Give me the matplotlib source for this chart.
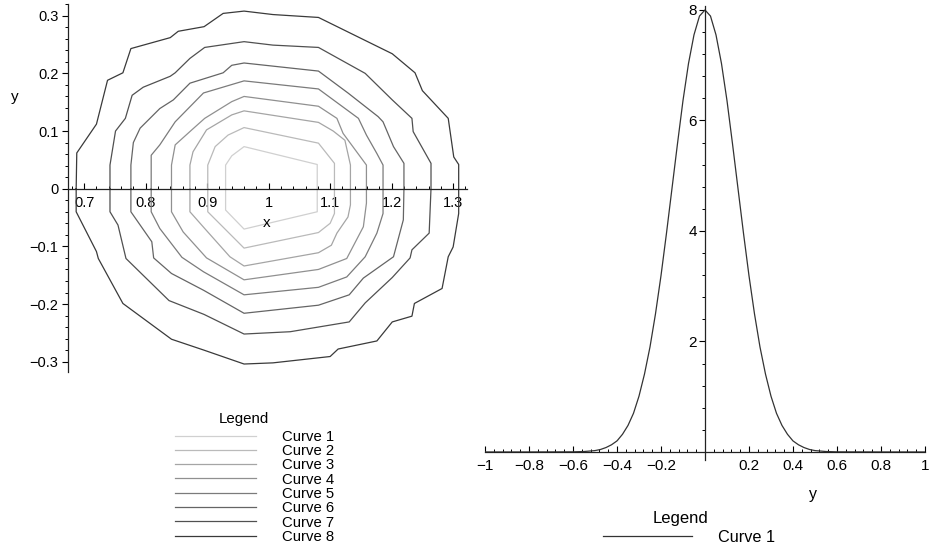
import matplotlib
matplotlib.use('Agg')
import matplotlib.pyplot as plt
from matplotlib.ticker import MultipleLocator, FixedLocator, FixedFormatter

plt.rcParams['font.family'] = ['Liberation Sans', 'DejaVu Sans']

# contour curves of the joint density (x, y)
c1_x = [0.930, 0.930, 0.940, 0.960, 1.079, 1.079, 0.960, 0.930, 0.930]
c1_y = [0, 0.041, 0.057, 0.073, 0.042, -0.040, -0.070, -0.037, 0]

c2_x = [0.901, 0.901, 0.913, 0.934, 0.960, 1.081, 1.107, 1.107, 1.100, 1.081,
        0.960, 0.901, 0.901]
c2_y = [0, 0.041, 0.073, 0.093, 0.106, 0.079, 0.044, -0.043, -0.060, -0.076,
        -0.103, -0.040, 0]

c3_x = [0.872, 0.872, 0.877, 0.899, 0.940, 0.960, 1.081, 1.105, 1.124, 1.133,
        1.133, 1.129, 1.111, 1.102, 1.081, 0.960, 0.937, 0.896, 0.872, 0.872]
c3_y = [0, 0.041, 0.064, 0.102, 0.128, 0.135, 0.115, 0.100, 0.084, 0.041,
        -0.028, -0.049, -0.077, -0.098, -0.111, -0.134, -0.118, -0.069, -0.040, 0]

c4_x = [0.842, 0.842, 0.848, 0.875, 0.896, 0.940, 0.960, 1.081, 1.111, 1.121,
        1.159, 1.159, 1.154, 1.127, 1.081, 0.960, 0.899, 0.861, 0.842, 0.842]
c4_y = [0, 0.041, 0.076, 0.102, 0.122, 0.151, 0.160, 0.143, 0.122, 0.096,
        0.041, -0.025, -0.066, -0.121, -0.140, -0.158, -0.120, -0.075, -0.040, 0]

c5_x = [0.809, 0.809, 0.823, 0.848, 0.894, 0.960, 1.081, 1.146, 1.159, 1.176,
        1.186, 1.186, 1.176, 1.157, 1.127, 1.081, 0.960, 0.894, 0.859, 0.823,
        0.809, 0.809]
c5_y = [0, 0.058, 0.076, 0.116, 0.166, 0.187, 0.173, 0.122, 0.093, 0.061,
        0.041, -0.043, -0.077, -0.118, -0.153, -0.171, -0.184, -0.144, -0.119,
        -0.069, -0.040, 0]

c6_x = [0.776, 0.776, 0.780, 0.791, 0.823, 0.845, 0.872, 0.926, 0.940, 0.960,
        1.081, 1.129, 1.178, 1.186, 1.203, 1.220, 1.220, 1.219, 1.203, 1.154,
        1.131, 1.081, 0.960, 0.894, 0.842, 0.813, 0.810, 0.776, 0.776]
c6_y = [0, 0.041, 0.080, 0.105, 0.139, 0.154, 0.183, 0.201, 0.214, 0.218,
        0.204, 0.166, 0.125, 0.116, 0.073, 0.044, 0, -0.054, -0.118, -0.155,
        -0.184, -0.202, -0.216, -0.176, -0.147, -0.120, -0.092, -0.040, 0]

c7_x = [0.742, 0.742, 0.751, 0.767, 0.778, 0.796, 0.840, 0.848, 0.872, 0.896,
        0.960, 1.007, 1.081, 1.157, 1.201, 1.233, 1.235, 1.264, 1.264, 1.261,
        1.233, 1.230, 1.201, 1.157, 1.131, 1.035, 0.960, 0.895, 0.838, 0.768,
        0.755, 0.742, 0.742]
c7_y = [0, 0.041, 0.100, 0.122, 0.162, 0.176, 0.195, 0.201, 0.226, 0.245,
        0.255, 0.249, 0.245, 0.200, 0.154, 0.122, 0.099, 0.044, 0, -0.077,
        -0.106, -0.120, -0.154, -0.198, -0.231, -0.248, -0.252, -0.218, -0.194,
        -0.121, -0.063, -0.040, 0]

c8_x = [0.687, 0.688, 0.720, 0.738, 0.763, 0.776, 0.840, 0.853, 0.895, 0.926,
        0.960, 1.007, 1.081, 1.201, 1.238, 1.250, 1.292, 1.301, 1.309, 1.309,
        1.309, 1.300, 1.292, 1.282, 1.237, 1.233, 1.201, 1.176, 1.113, 1.100,
        1.007, 0.960, 0.895, 0.842, 0.763, 0.723, 0.720, 0.687, 0.687]
c8_y = [0, 0.062, 0.112, 0.188, 0.201, 0.243, 0.262, 0.273, 0.281, 0.304,
        0.308, 0.302, 0.297, 0.234, 0.201, 0.170, 0.122, 0.055, 0.042, 0,
        -0.043, -0.101, -0.118, -0.173, -0.199, -0.221, -0.231, -0.264, -0.278,
        -0.291, -0.302, -0.304, -0.280, -0.261, -0.199, -0.121, -0.109, -0.040, 0]

contour_x = [c1_x, c2_x, c3_x, c4_x, c5_x, c6_x, c7_x, c8_x]
contour_y = [c1_y, c2_y, c3_y, c4_y, c5_y, c6_y, c7_y, c8_y]
contour_labels = ['Curve 1', 'Curve 2', 'Curve 3', 'Curve 4',
                  'Curve 5', 'Curve 6', 'Curve 7', 'Curve 8']
contour_colors = ['#d0d0d0', '#bababa', '#a5a5a5', '#909090',
                  '#7b7b7b', '#656565', '#505050', '#3a3a3a']

x_ticks = [0.7, 0.8, 0.9, 1.0, 1.1, 1.2, 1.3]
x_tick_labels = ['0.7', '0.8', '0.9', '1', '1.1', '1.2', '1.3']
y_ticks = [-0.3, -0.2, -0.1, 0, 0.1, 0.2, 0.3]
y_tick_labels = ['\u22120.3', '\u22120.2', '\u22120.1', '0', '0.1', '0.2', '0.3']

# marginal density in y
marg_y = [-1.0, -0.8, -0.6, -0.55, -0.5, -0.475, -0.45, -0.425, -0.4, -0.375,
          -0.35, -0.325, -0.3, -0.275, -0.25, -0.225, -0.2, -0.175, -0.15,
          -0.125, -0.1, -0.075, -0.05, -0.025, 0.0, 0.025, 0.05, 0.075, 0.1,
          0.125, 0.15, 0.175, 0.2, 0.225, 0.25, 0.275, 0.3, 0.325, 0.35, 0.375,
          0.4, 0.425, 0.45, 0.475, 0.5, 0.55, 0.6, 0.8, 1.0]
marg_f = [0, 0, 0.002, 0.008, 0.025, 0.045, 0.08, 0.13, 0.2, 0.32,
          0.48, 0.70, 1.01, 1.41, 1.90, 2.50, 3.19, 3.96, 4.77,
          5.58, 6.36, 7.03, 7.55, 7.89, 8.0, 7.89, 7.55, 7.03, 6.36,
          5.58, 4.77, 3.96, 3.19, 2.50, 1.90, 1.41, 1.01, 0.70, 0.48, 0.32,
          0.2, 0.13, 0.08, 0.045, 0.025, 0.008, 0.002, 0, 0]

r_x_ticks = [-1, -0.8, -0.6, -0.4, -0.2, 0.2, 0.4, 0.6, 0.8, 1]
r_x_tick_labels = ['\u22121', '\u22120.8', '\u22120.6', '\u22120.4', '\u22120.2',
                   '0.2', '0.4', '0.6', '0.8', '1']
r_y_ticks = [2, 4, 6, 8]
r_y_tick_labels = ['2', '4', '6', '8']

fig = plt.figure(figsize=(9.3, 5.56), dpi=100)

# left: contour plot
ax1 = fig.add_axes([0.0731, 0.3315, 0.4287, 0.6613])
lines = []
for xs, ys, col, lab in zip(contour_x, contour_y, contour_colors, contour_labels):
    ln, = ax1.plot(xs, ys, color=col, lw=0.9, label=lab)
    lines.append(ln)
ax1.set_xlim(0.6737, 1.322)
ax1.set_ylim(-0.3173, 0.3203)
ax1.spines['top'].set_visible(False)
ax1.spines['right'].set_visible(False)
ax1.spines['bottom'].set_position(('data', 0))
for s in ['left', 'bottom']:
    ax1.spines[s].set_linewidth(0.9)
    ax1.spines[s].set_color('#222222')
ax1.xaxis.set_major_locator(FixedLocator(x_ticks))
ax1.xaxis.set_major_formatter(FixedFormatter(x_tick_labels))
ax1.xaxis.set_minor_locator(MultipleLocator(0.02))
ax1.yaxis.set_major_locator(FixedLocator(y_ticks))
ax1.yaxis.set_major_formatter(FixedFormatter(y_tick_labels))
ax1.yaxis.set_minor_locator(MultipleLocator(0.02))
ax1.tick_params(axis='x', which='major', direction='in', length=4, width=0.8,
                pad=5, labelsize=10.5)
ax1.tick_params(axis='x', which='minor', direction='in', length=2.5, width=0.7)
ax1.tick_params(axis='y', which='major', direction='out', length=4, width=0.8,
                pad=3, labelsize=10.5)
ax1.tick_params(axis='y', which='minor', direction='out', length=2.5, width=0.7)
ax1.text(0.499, 0.405, 'x', transform=ax1.transAxes, ha='center', va='center',
         fontsize=11)
ax1.text(-0.133, 0.747, 'y', transform=ax1.transAxes, ha='center', va='center',
         fontsize=11)

fig.text(244 / 930, 1 - 419 / 556, 'Legend', ha='center', va='center',
         fontsize=10.8)
fig.legend(lines, contour_labels, loc='upper left', bbox_to_anchor=(0.188, 0.227),
           frameon=False, fontsize=10.7,
           handlelength=5.48, handletextpad=1.71, labelspacing=0.02,
           borderpad=0, borderaxespad=0)

# right: marginal density
ax2 = fig.add_axes([0.5215, 0.1727, 0.4731, 0.8173])
ln2, = ax2.plot(marg_y, marg_f, color='#333333', lw=0.9, label='Curve 1')
ax2.set_xlim(-1, 1)
ax2.set_ylim(-0.145, 8.08)
ax2.spines['top'].set_visible(False)
ax2.spines['right'].set_visible(False)
ax2.spines['left'].set_position(('data', 0))
ax2.spines['bottom'].set_position(('data', 0))
for s in ['left', 'bottom']:
    ax2.spines[s].set_linewidth(0.9)
    ax2.spines[s].set_color('#222222')
ax2.xaxis.set_major_locator(FixedLocator(r_x_ticks))
ax2.xaxis.set_major_formatter(FixedFormatter(r_x_tick_labels))
ax2.xaxis.set_minor_locator(MultipleLocator(0.04))
ax2.yaxis.set_major_locator(FixedLocator(r_y_ticks))
ax2.yaxis.set_major_formatter(FixedFormatter(r_y_tick_labels))
ax2.yaxis.set_minor_locator(MultipleLocator(0.4))
ax2.tick_params(axis='x', which='major', direction='in', length=4, width=0.8,
                pad=5, labelsize=11)
ax2.tick_params(axis='x', which='minor', direction='in', length=2.5, width=0.7)
ax2.tick_params(axis='y', which='major', direction='out', length=4, width=0.8,
                pad=2, labelsize=11)
ax2.tick_params(axis='y', which='minor', direction='out', length=2.5, width=0.7)
ax2.text(0.745, -0.077, 'y', transform=ax2.transAxes, ha='center', va='center',
         fontsize=11.5)

fig.text(680 / 930, 1 - 518 / 556, 'Legend', ha='center', va='center',
         fontsize=12)
fig.legend([ln2], ['Curve 1'], loc='upper left', bbox_to_anchor=(0.6484, 0.047),
           frameon=False, fontsize=11.7,
           handlelength=5.46, handletextpad=1.6, labelspacing=0.0,
           borderpad=0, borderaxespad=0)

plt.savefig('out.png', dpi=100)
